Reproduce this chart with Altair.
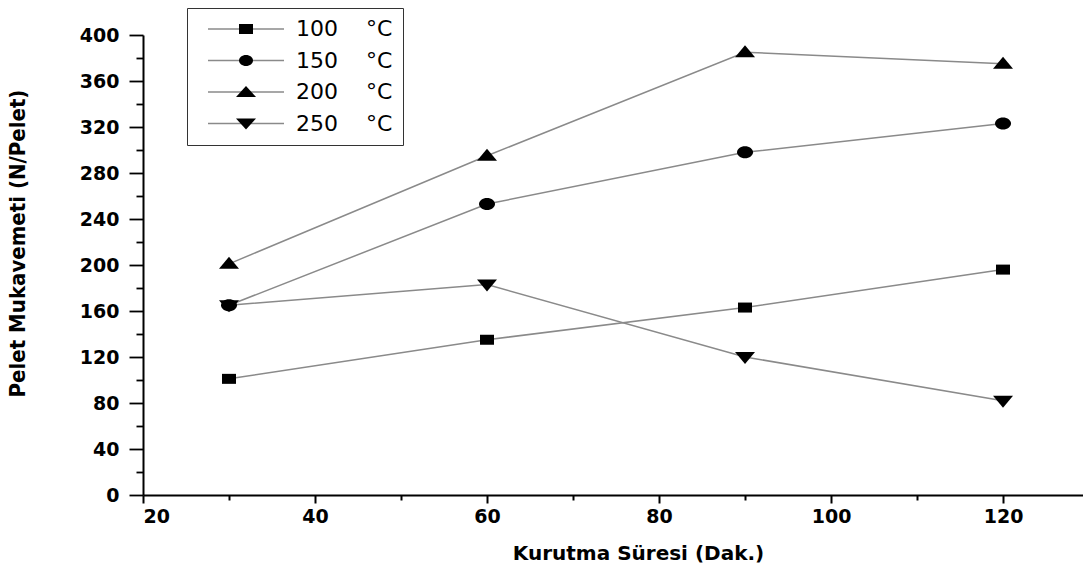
import altair as alt
import pandas as pd

# ---- data ----
time_min = [30, 60, 90, 120]
s100 = [101, 135, 163, 196]
s150 = [165, 253, 298, 323]
s200 = [201, 295, 385, 375]
s250 = [165, 183, 120, 82]

series_names = ["100\u00a0\u00a0\u00a0\u00a0°C\u00a0", "150\u00a0\u00a0\u00a0\u00a0°C\u00a0",
                "200\u00a0\u00a0\u00a0\u00a0°C\u00a0", "250\u00a0\u00a0\u00a0\u00a0°C\u00a0"]
series_values = [s100, s150, s200, s250]

x_ticks = [20, 30, 40, 50, 60, 70, 80, 90, 100, 110, 120]
y_ticks = [0, 20, 40, 60, 80, 100, 120, 140, 160, 180, 200, 220, 240,
           260, 280, 300, 320, 340, 360, 380, 400]

rows = []
for i, (name, vals) in enumerate(zip(series_names, series_values)):
    for t, v in zip(time_min, vals):
        rows.append({"series": name, "time": t, "value": v, "order": i})
df = pd.DataFrame(rows)

# marker shapes (size=4 -> path units are pixels)
marker_paths = [
    "M-7,-5H7V5H-7Z",
    "M-8,0A8,6,0,1,1,8,0A8,6,0,1,1,-8,0Z",
    "M0,-7L10,5L-10,5Z",
    "M0,7L10,-5L-10,-5Z",
]
legend_marker_paths = [
    "M-7,-5H7V5H-7Z",
    "M-7,0A7,5.5,0,1,1,7,0A7,5.5,0,1,1,-7,0Z",
    "M0,-6L10,5L-10,5Z",
    "M0,6L10,-5L-10,-5Z",
]
legend_line_paths = ["M-38,0H38", "M-38,0H38", "M-38,0H38", "M-38,0H38"]

tick_font = "DejaVu Sans"
line_gray = "#8a8a8a"

x_enc = alt.X(
    "time:Q",
    scale=alt.Scale(domain=[20, 129.3], nice=False, zero=False),
    axis=alt.Axis(
        values=x_ticks,
        labelExpr="datum.value % 20 === 0 ? datum.label : ''",
        tickSize={"condition": {"test": "datum.value % 20 === 0", "value": 8}, "value": 5},
        title="Kurutma Süresi (Dak.)",
        titleX=495, titleY=58, titleBaseline="middle", titleAlign="center",
        titleFont=tick_font, titleFontSize=20, titleFontWeight="bold",
        labelFont=tick_font, labelFontSize=19, labelFontWeight="bold",
        labelPadding=4, labelColor="black", titleColor="black",
        domainColor="black", domainWidth=2, tickColor="black", tickWidth=2,
        grid=False,
    ),
)
y_enc = alt.Y(
    "value:Q",
    scale=alt.Scale(domain=[0, 400], nice=False, zero=False),
    axis=alt.Axis(
        values=y_ticks,
        labelExpr="datum.value % 40 === 0 ? datum.label : ''",
        tickSize={"condition": {"test": "datum.value % 40 === 0", "value": 14}, "value": 7},
        title="Pelet Mukavemeti (N/Pelet)",
        titleX=-126, titleY=208, titleBaseline="middle", titleAlign="center", titleAngle=270,
        titleFont="Liberation Sans Narrow, DejaVu Sans Condensed, sans-serif",
        titleFontSize=22, titleFontWeight="bold",
        labelFont=tick_font, labelFontSize=19, labelFontWeight="bold",
        labelPadding=10, labelColor="black", titleColor="black",
        domainColor="black", domainWidth=2, tickColor="black", tickWidth=1.8,
        grid=False,
    ),
)

lines = alt.Chart(df).mark_line(color=line_gray, strokeWidth=1.5).encode(
    x=x_enc, y=y_enc, detail="series:N", order="time:Q"
)

points = alt.Chart(df).mark_point(filled=True, color="black", opacity=1, size=4).encode(
    x=x_enc, y=y_enc,
    shape=alt.Shape("series:N", scale=alt.Scale(domain=series_names, range=marker_paths), legend=None),
    order="order:Q",
)

legend_common = dict(
    title=None, orient="none", legendX=44, legendY=-27,
    symbolOffset=38, labelOffset=39, rowPadding=9.5,
    labelFont=tick_font, labelFontSize=22, labelColor="black",
    padding=10, symbolSize=4, symbolOpacity=1,
)

# legend A: gray line segments + box
legend_lines = alt.Chart(df).transform_filter("false").mark_point(
    filled=False, color=line_gray, strokeWidth=1.4, size=4, opacity=1
).encode(
    x=x_enc, y=y_enc,
    shape=alt.Shape(
        "series:N",
        scale=alt.Scale(domain=series_names, range=legend_line_paths),
        legend=alt.Legend(
            strokeColor="#333333", fillColor="white", labelOpacity=0,
            symbolStrokeColor=line_gray, symbolStrokeWidth=1.4, zindex=1,
            **legend_common,
        ),
    ),
)

# legend B: black markers + labels, drawn on top
legend_marks = alt.Chart(df).transform_filter("false").mark_point(
    filled=True, color="black", size=4, opacity=1
).encode(
    x=x_enc, y=y_enc,
    shape=alt.Shape(
        "series:N",
        scale=alt.Scale(domain=series_names, range=legend_marker_paths),
        legend=alt.Legend(
            symbolFillColor="black", zindex=2,
            **legend_common,
        ),
    ),
)

chart = (
    alt.layer(lines, points, legend_lines, legend_marks)
    .resolve_scale(shape="independent")
    .properties(
        width=940, height=460,
        autosize=alt.AutoSizeParams(type="none"),
        padding={"left": 143, "top": 35, "right": 0, "bottom": 76},
        background="white",
    )
    .configure_view(stroke=None)
)

chart.save("out.html", embed_options={"renderer": "svg", "actions": False})
